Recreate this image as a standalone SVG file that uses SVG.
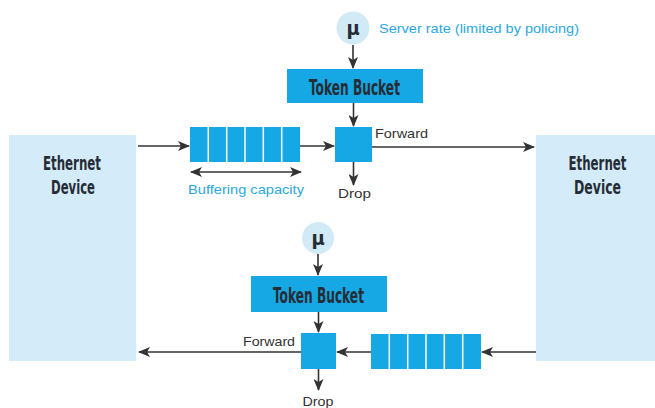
<svg xmlns="http://www.w3.org/2000/svg" width="655" height="408" viewBox="0 0 655 408">
  <style>
    .dev { fill: #d4ecf9; }
    .blk { fill: #16a8e4; }
    .rate { fill: #d2e9f6; }
    .cell { stroke: #ffffff; stroke-width: 1.5; }
    .title { font-family: "Liberation Sans Narrow", "DejaVu Sans Condensed", "Liberation Sans", sans-serif; font-weight: bold; fill: #262c35; }
    .lbl { font-family: "Liberation Sans", Arial, sans-serif; font-size: 13px; fill: #333333; }
    .note { font-family: "Liberation Sans", Arial, sans-serif; font-size: 13.5px; fill: #2aa8e2; }
    .flow { stroke: #333333; stroke-width: 1.6; fill: none; }
  </style>
  <defs>
    <marker id="head" viewBox="0 0 12 10" refX="11" refY="5" markerWidth="12" markerHeight="10" markerUnits="userSpaceOnUse" orient="auto-start-reverse">
      <path d="M0,0 L12,5 L0,10 L3,5 Z" fill="#333333"/>
    </marker>
  </defs>

  <!-- Ethernet devices -->
  <g id="eth-left">
    <rect class="dev" x="9" y="135" width="127" height="226"/>
    <text class="title" x="72" y="170" font-size="20" text-anchor="middle" textLength="58" lengthAdjust="spacingAndGlyphs">Ethernet</text>
    <text class="title" x="73" y="194" font-size="20" text-anchor="middle" textLength="44" lengthAdjust="spacingAndGlyphs">Device</text>
  </g>
  <g id="eth-right">
    <rect class="dev" x="536" y="135" width="119" height="226"/>
    <text class="title" x="597.5" y="170" font-size="20" text-anchor="middle" textLength="58" lengthAdjust="spacingAndGlyphs">Ethernet</text>
    <text class="title" x="597.5" y="194" font-size="20" text-anchor="middle" textLength="47" lengthAdjust="spacingAndGlyphs">Device</text>
  </g>

  <!-- Upper path: rate, token bucket, buffer, policer -->
  <g id="rate-top">
    <circle class="rate" cx="353" cy="28" r="16.5"/>
    <text class="title" x="353" y="35" font-size="20" text-anchor="middle">μ</text>
    <text class="note" x="379" y="33" textLength="200" lengthAdjust="spacingAndGlyphs">Server rate (limited by policing)</text>
  </g>
  <g id="bucket-top">
    <rect class="blk" x="287" y="69" width="136" height="34"/>
    <text class="title" x="354.5" y="95" font-size="22" text-anchor="middle" textLength="91" lengthAdjust="spacingAndGlyphs">Token Bucket</text>
  </g>
  <g id="queue-top">
    <rect class="blk" x="190" y="127" width="110" height="35"/>
    <g class="cell">
      <line x1="208.3" y1="127" x2="208.3" y2="162"/>
      <line x1="226.7" y1="127" x2="226.7" y2="162"/>
      <line x1="245" y1="127" x2="245" y2="162"/>
      <line x1="263.3" y1="127" x2="263.3" y2="162"/>
      <line x1="281.7" y1="127" x2="281.7" y2="162"/>
    </g>
    <text class="note" x="246" y="194" text-anchor="middle" textLength="116" lengthAdjust="spacingAndGlyphs">Buffering capacity</text>
  </g>
  <g id="policer-top">
    <rect class="blk" x="335" y="127" width="37" height="35"/>
    <text class="lbl" x="375" y="138" textLength="53" lengthAdjust="spacingAndGlyphs">Forward</text>
    <text class="lbl" x="354.5" y="198" text-anchor="middle" textLength="33" lengthAdjust="spacingAndGlyphs">Drop</text>
  </g>

  <!-- Lower path: rate, token bucket, buffer, policer -->
  <g id="rate-bottom">
    <circle class="rate" cx="318" cy="238" r="16"/>
    <text class="title" x="318" y="245" font-size="20" text-anchor="middle">μ</text>
  </g>
  <g id="bucket-bottom">
    <rect class="blk" x="251" y="276" width="136" height="36"/>
    <text class="title" x="318.5" y="303" font-size="22" text-anchor="middle" textLength="91" lengthAdjust="spacingAndGlyphs">Token Bucket</text>
  </g>
  <g id="queue-bottom">
    <rect class="blk" x="371" y="334" width="110" height="35"/>
    <g class="cell">
      <line x1="389.3" y1="334" x2="389.3" y2="369"/>
      <line x1="407.7" y1="334" x2="407.7" y2="369"/>
      <line x1="426" y1="334" x2="426" y2="369"/>
      <line x1="444.3" y1="334" x2="444.3" y2="369"/>
      <line x1="462.7" y1="334" x2="462.7" y2="369"/>
    </g>
  </g>
  <g id="policer-bottom">
    <rect class="blk" x="301" y="333" width="35" height="36"/>
    <text class="lbl" x="243" y="346" textLength="52" lengthAdjust="spacingAndGlyphs">Forward</text>
    <text class="lbl" x="318" y="406" text-anchor="middle" textLength="31" lengthAdjust="spacingAndGlyphs">Drop</text>
  </g>

  <!-- Connectors -->
  <g id="connectors">
    <line class="flow" x1="353" y1="45" x2="353" y2="68" marker-end="url(#head)"/>
    <line class="flow" x1="353.5" y1="103" x2="353.5" y2="126" marker-end="url(#head)"/>
    <line class="flow" x1="138" y1="146" x2="189" y2="146" marker-end="url(#head)"/>
    <line class="flow" x1="300" y1="146" x2="334" y2="146" marker-end="url(#head)"/>
    <line class="flow" x1="372" y1="147" x2="534" y2="147" marker-end="url(#head)"/>
    <line class="flow" x1="353.5" y1="162" x2="353.5" y2="185" marker-end="url(#head)"/>
    <line class="flow" x1="191" y1="172" x2="301" y2="172" marker-start="url(#head)" marker-end="url(#head)"/>

    <line class="flow" x1="318" y1="254" x2="318" y2="275" marker-end="url(#head)"/>
    <line class="flow" x1="318.5" y1="312" x2="318.5" y2="332" marker-end="url(#head)"/>
    <line class="flow" x1="536" y1="352" x2="482" y2="352" marker-end="url(#head)"/>
    <line class="flow" x1="371" y1="352" x2="337" y2="352" marker-end="url(#head)"/>
    <line class="flow" x1="301" y1="352" x2="139" y2="352" marker-end="url(#head)"/>
    <line class="flow" x1="318.5" y1="369" x2="318.5" y2="390" marker-end="url(#head)"/>
  </g>
</svg>
